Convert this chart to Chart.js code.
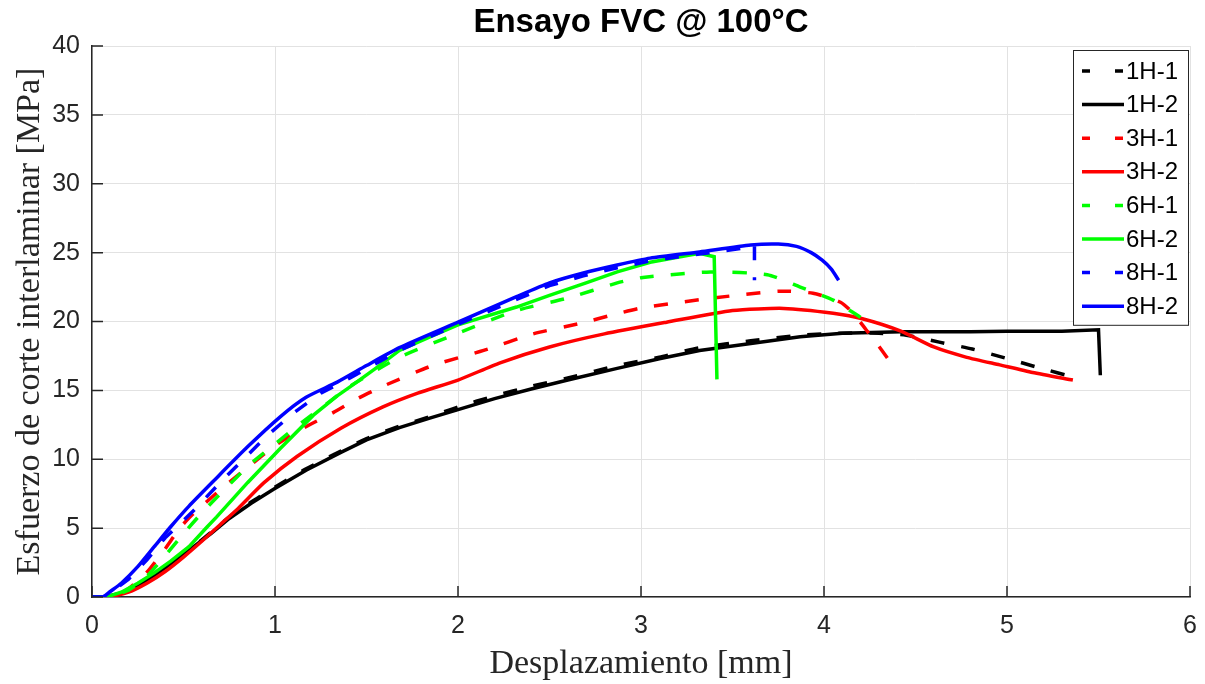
<!DOCTYPE html>
<html>
<head>
<meta charset="utf-8">
<script src="https://cdn.jsdelivr.net/npm/chart.js@4.4.1/dist/chart.umd.min.js"></script>
<style>
  html, body { margin: 0; padding: 0; background: #fff; }
  canvas { display: block; }
</style>
</head>
<body>
<canvas id="chart" width="1205" height="684"></canvas>
<script>
// series names (legend order)
const seriesNames = ["1H-1", "1H-2", "3H-1", "3H-2", "6H-1", "6H-2", "8H-1", "8H-2"];
const seriesColors = ["#000000", "#000000", "#ff0000", "#ff0000", "#00ff00", "#00ff00", "#0000ff", "#0000ff"];
const seriesDashed = [true, false, true, false, true, false, true, false];

const chartTitle = "Ensayo FVC @ 100°C";

// axis ticks
const xTicks = [0, 1, 2, 3, 4, 5, 6];
const yTicks = [0, 5, 10, 15, 20, 25, 30, 35, 40];

// displacement [mm] / stress [MPa]
const x_1H1 = [0, 0.07, 0.15, 0.25, 0.35, 0.45, 0.55, 0.65, 0.75, 0.87, 0.99, 1.17, 1.36, 1.5, 1.68, 1.85, 2.0, 2.2, 2.4, 2.6, 2.87, 3.1, 3.32, 3.6, 3.87, 4.1, 4.3, 4.45, 4.63, 4.81, 4.99, 5.16, 5.38];
const y_1H1 = [0, 0, 0.25, 0.8, 1.6, 2.6, 3.6, 4.7, 5.8, 6.9, 7.9, 9.3, 10.6, 11.5, 12.4, 13.1, 13.8, 14.6, 15.3, 15.9, 16.8, 17.4, 18.1, 18.6, 19.0, 19.15, 19.15, 19.0, 18.5, 18.0, 17.35, 16.7, 15.9];

const x_1H2 = [0, 0.07, 0.15, 0.25, 0.35, 0.45, 0.55, 0.65, 0.75, 0.87, 0.99, 1.17, 1.36, 1.5, 1.68, 1.85, 2.0, 2.2, 2.4, 2.6, 2.87, 3.1, 3.32, 3.6, 3.87, 4.1, 4.42, 4.8, 5.0, 5.3, 5.5, 5.51];
const y_1H2 = [0, 0, 0.25, 0.8, 1.6, 2.6, 3.6, 4.6, 5.7, 6.8, 7.8, 9.2, 10.5, 11.4, 12.3, 13.0, 13.6, 14.4, 15.1, 15.75, 16.6, 17.3, 17.9, 18.4, 18.9, 19.15, 19.25, 19.25, 19.3, 19.3, 19.4, 16.1];

const x_3H1 = [0, 0.07, 0.15, 0.2, 0.3, 0.4, 0.48, 0.55, 0.72, 0.86, 0.99, 1.16, 1.32, 1.45, 1.59, 1.86, 2.14, 2.41, 2.68, 2.85, 3.01, 3.39, 3.76, 3.94, 4.09, 4.16, 4.23, 4.3, 4.37];
const y_3H1 = [0, 0, 0.2, 0.6, 1.8, 3.5, 5.0, 6.0, 8.0, 9.5, 10.9, 12.3, 13.4, 14.4, 15.3, 16.8, 17.9, 19.1, 19.9, 20.5, 21.0, 21.7, 22.2, 22.05, 21.4, 20.6, 19.4, 18.2, 16.9];

const x_3H2 = [0, 0.08, 0.2, 0.3, 0.4, 0.5, 0.6, 0.7, 0.8, 0.94, 1.12, 1.36, 1.59, 1.78, 2.0, 2.23, 2.5, 2.8, 3.14, 3.5, 3.78, 4.05, 4.21, 4.42, 4.6, 4.78, 4.96, 5.14, 5.36];
const y_3H2 = [0, 0, 0.35, 1.0, 1.85, 2.9, 4.05, 5.25, 6.45, 8.3, 10.2, 12.25, 13.8, 14.8, 15.75, 17.0, 18.15, 19.1, 19.95, 20.8, 20.95, 20.6, 20.2, 19.3, 18.15, 17.4, 16.85, 16.3, 15.75];

const x_6H1 = [0, 0.08, 0.2, 0.3, 0.4, 0.5, 0.6, 0.72, 0.86, 0.99, 1.14, 1.28, 1.41, 1.68, 2.0, 2.32, 2.6, 2.87, 3.01, 3.38, 3.69, 3.87, 4.05, 4.2];
const y_6H1 = [0, 0, 0.5, 1.5, 3.0, 4.6, 6.1, 7.75, 9.6, 11.0, 12.6, 14.0, 15.3, 17.4, 19.15, 20.8, 21.7, 22.8, 23.2, 23.6, 23.4, 22.5, 21.55, 20.3];

const x_6H2 = [0, 0.08, 0.16, 0.25, 0.34, 0.43, 0.53, 0.63, 0.68, 0.85, 1.03, 1.21, 1.34, 1.41, 1.55, 1.68, 1.85, 2.0, 2.32, 2.5, 2.7, 2.87, 3.05, 3.32, 3.4, 3.415];
const y_6H2 = [0, 0, 0.35, 1.0, 1.75, 2.6, 3.65, 5.1, 5.8, 8.3, 10.8, 13.2, 14.6, 15.25, 16.6, 17.9, 18.9, 19.75, 21.05, 21.9, 22.8, 23.6, 24.3, 24.95, 24.7, 15.8];

const x_8H1 = [0, 0.06, 0.1, 0.2, 0.3, 0.4, 0.48, 0.55, 0.7, 0.85, 0.96, 1.1, 1.25, 1.41, 1.68, 2.0, 2.32, 2.5, 2.68, 2.87, 3.05, 3.32, 3.6, 3.62, 3.62];
const y_8H1 = [0, 0, 0.3, 1.3, 2.7, 4.3, 5.3, 6.2, 8.3, 10.3, 11.75, 13.35, 14.8, 15.9, 17.9, 19.8, 21.6, 22.6, 23.3, 23.9, 24.4, 24.9, 25.4, 25.6, 23.0];

const x_8H2 = [0, 0.06, 0.1, 0.16, 0.25, 0.34, 0.43, 0.53, 0.67, 0.85, 1.03, 1.17, 1.34, 1.5, 1.68, 2.0, 2.32, 2.5, 2.68, 2.87, 3.05, 3.32, 3.6, 3.75, 3.85, 3.93, 3.99, 4.04, 4.08];
const y_8H2 = [0, 0, 0.4, 1.0, 2.2, 3.65, 5.1, 6.6, 8.5, 10.9, 13.1, 14.5, 15.6, 16.8, 18.1, 19.95, 21.8, 22.8, 23.5, 24.1, 24.6, 25.05, 25.55, 25.62, 25.45, 25.0, 24.45, 23.8, 23.0];

const xSeries = [x_1H1, x_1H2, x_3H1, x_3H2, x_6H1, x_6H2, x_8H1, x_8H2];
const ySeries = [y_1H1, y_1H2, y_3H1, y_3H2, y_6H1, y_6H2, y_8H1, y_8H2];

// curves that end in a vertical drop are drawn straight, the rest smoothed
const seriesTension = [0.2, 0, 0.2, 0.2, 0.2, 0, 0, 0.2];

const DASH = [14, 17];
const AXIS_COLOR = "#262626";
const GRID_COLOR = "#e2e2e2";
const SANS = "'Liberation Sans', Arial, sans-serif";
const SERIF = "'Liberation Serif', 'Times New Roman', serif";

const toPoints = (xs, ys) => xs.map((x, i) => ({ x: x, y: ys[i] }));

const datasets = seriesNames.map((name, i) => ({
  label: name,
  data: toPoints(xSeries[i], ySeries[i]),
  borderColor: seriesColors[i],
  borderWidth: 3.5,
  borderDash: seriesDashed[i] ? DASH : [],
  pointRadius: 0,
  tension: seriesTension[i],
  fill: false,
  order: seriesNames.length - i // last series on top, like matlab
}));

// title centred over the plot box, not the whole canvas
const plotTitle = {
  id: "plotTitle",
  afterDraw(chart) {
    const { ctx, chartArea } = chart;
    ctx.save();
    ctx.font = "bold 33px " + SANS;
    ctx.fillStyle = "#000";
    ctx.textAlign = "center";
    ctx.textBaseline = "middle";
    ctx.fillText(chartTitle, (chartArea.left + chartArea.right) / 2, 23);
    ctx.restore();
  }
};

// matlab style ticks pointing into the axes
const innerTicks = {
  id: "innerTicks",
  afterDatasetsDraw(chart) {
    const { ctx, chartArea, scales } = chart;
    ctx.save();
    ctx.strokeStyle = AXIS_COLOR;
    ctx.lineWidth = 1.5;
    ctx.beginPath();
    xTicks.forEach(v => {
      const px = scales.x.getPixelForValue(v);
      ctx.moveTo(px, chartArea.bottom);
      ctx.lineTo(px, chartArea.bottom - 11);
    });
    yTicks.forEach(v => {
      const py = scales.y.getPixelForValue(v);
      ctx.moveTo(chartArea.left, py);
      ctx.lineTo(chartArea.left + 11, py);
    });
    ctx.stroke();
    ctx.restore();
  }
};

// boxed legend in the upper right corner
const boxLegend = {
  id: "boxLegend",
  afterDraw(chart) {
    const { ctx, chartArea } = chart;
    const w = 115, rowH = 33.6;
    const h = rowH * seriesNames.length + 6;
    const left = chartArea.right - w - 2;
    const top = chartArea.top + 4;
    ctx.save();
    ctx.fillStyle = "#fff";
    ctx.fillRect(left, top, w, h);
    ctx.strokeStyle = AXIS_COLOR;
    ctx.lineWidth = 1;
    ctx.strokeRect(left + 0.5, top + 0.5, w, h);
    ctx.font = "24px " + SANS;
    ctx.textBaseline = "middle";
    ctx.textAlign = "left";
    seriesNames.forEach((name, i) => {
      const cy = top + 21 + i * rowH;
      ctx.strokeStyle = seriesColors[i];
      ctx.lineWidth = 3.5;
      ctx.setLineDash(seriesDashed[i] ? [8, 25] : []);
      ctx.beginPath();
      ctx.moveTo(left + 9, cy);
      ctx.lineTo(left + 51, cy);
      ctx.stroke();
      ctx.setLineDash([]);
      ctx.fillStyle = "#000";
      ctx.fillText(name, left + 53, cy + 1);
    });
    ctx.restore();
  }
};

const chartCtx = document.getElementById("chart").getContext("2d");

new Chart(chartCtx, {
  type: "line",
  data: { datasets: datasets },
  plugins: [innerTicks, plotTitle, boxLegend],
  options: {
    responsive: false,
    animation: false,
    devicePixelRatio: 1,
    layout: { padding: { left: 0, right: 15, top: 46, bottom: 0 } },
    plugins: {
      legend: { display: false },
      tooltip: { enabled: false },
      title: { display: false }
    },
    scales: {
      x: {
        type: "linear",
        min: 0,
        max: 6,
        afterFit: s => {
          s.height = 87;
          // keep the plot box at a fixed width, the layout padding covers the last label
          s.paddingLeft = 0;
          s.paddingRight = 0;
        },
        afterBuildTicks: s => { s.ticks = xTicks.map(v => ({ value: v })); },
        ticks: {
          color: "#262626",
          padding: 14,
          font: { family: SANS, size: 25 }
        },
        grid: { color: GRID_COLOR, lineWidth: 1, drawTicks: false },
        border: { color: AXIS_COLOR, width: 1.5 },
        title: {
          display: true,
          text: "Desplazamiento [mm]",
          color: "#262626",
          font: { family: SERIF, size: 34, lineHeight: 1 },
          padding: { top: 0, bottom: 3 }
        }
      },
      y: {
        type: "linear",
        min: 0,
        max: 40,
        afterFit: s => { s.width = 92; },
        afterBuildTicks: s => { s.ticks = yTicks.map(v => ({ value: v })); },
        ticks: {
          color: "#262626",
          padding: 12,
          font: { family: SANS, size: 25 }
        },
        grid: { color: GRID_COLOR, lineWidth: 1, drawTicks: false },
        border: { color: AXIS_COLOR, width: 1.5 },
        title: {
          display: true,
          text: "Esfuerzo de corte interlaminar [MPa]",
          color: "#262626",
          font: { family: SERIF, size: 34, lineHeight: 1 },
          padding: { top: 13, bottom: 0 }
        }
      }
    }
  }
});
</script>
</body>
</html>
